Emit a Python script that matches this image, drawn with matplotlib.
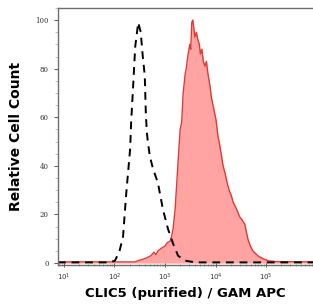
import numpy as np
import matplotlib
matplotlib.use("Agg")
import matplotlib.pyplot as plt
from matplotlib.ticker import LogLocator, MultipleLocator, FixedLocator

# isotype / negative control (dashed), x given as log10 of intensity
ctrl_log = [0.88, 1.90, 2.01, 2.10, 2.17, 2.23, 2.31, 2.33, 2.37, 2.41, 2.47, 2.52,
            2.56, 2.60, 2.62, 2.64, 2.66, 2.70, 2.76, 2.86, 2.96, 3.06, 3.16, 3.26,
            3.40, 3.60, 5.93]
ctrl_val = [0.3, 0.3, 1, 5, 11, 28, 47, 58, 73, 89, 99, 95,
            85, 77, 62, 54, 50, 44, 39, 33, 22, 14, 8, 3,
            1, 0.3, 0.3]

# CLIC5 stained sample (red filled)
stain_log = [0.88, 2.40, 2.47, 2.55, 2.62, 2.72, 2.78, 2.82, 2.86, 2.92, 3.00, 3.05,
             3.10, 3.13, 3.16, 3.20, 3.23, 3.26, 3.30, 3.33, 3.36, 3.40, 3.42, 3.45,
             3.49, 3.51, 3.53, 3.55, 3.57, 3.59, 3.62, 3.65, 3.68, 3.70, 3.73, 3.76,
             3.79, 3.82, 3.85, 3.89, 3.92, 3.95, 3.98, 4.01, 4.05, 4.08, 4.12, 4.15,
             4.19, 4.23, 4.27, 4.31, 4.35, 4.40, 4.44, 4.48, 4.52, 4.55, 4.58, 4.61,
             4.64, 4.69, 4.74, 4.79, 4.84, 4.92, 5.04, 5.20, 5.93]
stain_val = [0.5, 0.5, 1, 1.5, 2, 3, 4.5, 3.5, 5, 6, 7, 8.5,
             9, 11, 14, 22, 32, 42, 55, 58, 70, 78, 80, 85,
             90, 88, 99, 100, 97, 93, 95, 92, 90, 86, 88, 83,
             81, 83, 78, 73, 68, 65, 62, 59, 52, 49, 44, 40,
             37, 33, 30, 28, 25, 23, 21, 19, 18, 17, 16, 13,
             10, 7, 5, 4, 3, 2, 1, 0.6, 0.5]

x_ticks = [1e1, 1e2, 1e3, 1e4, 1e5, 1e6]
x_labels = ["$10^{1}$", "$10^{2}$", "$10^{3}$", "$10^{4}$", "$10^{5}$", "$10^{6}$"]
y_ticks = [0, 20, 40, 60, 80, 100]

ctrl_x = np.power(10.0, ctrl_log)
stain_x = np.power(10.0, stain_log)

fig = plt.figure(figsize=(3.13, 3.05), dpi=100)
ax = fig.add_axes([0.185, 0.131, 0.815, 0.843])

ax.fill_between(stain_x, 0, stain_val, color="#ffa3a3", lw=0)
ax.plot(stain_x, stain_val, color="#dd3b36", lw=1.0)
ax.plot(ctrl_x, ctrl_val, color="black", lw=1.4, dashes=(4, 3))

ax.set_xscale("log")
ax.set_xlim(10**0.88, 10**5.93)
ax.set_ylim(-0.8, 105)

ax.xaxis.set_major_locator(FixedLocator(x_ticks))
ax.set_xticklabels(x_labels)
ax.xaxis.set_minor_locator(LogLocator(base=10, subs=np.arange(2, 10)))
ax.xaxis.set_minor_formatter(plt.NullFormatter())
ax.set_yticks(y_ticks)
ax.yaxis.set_minor_locator(MultipleLocator(5))

for lab in ax.get_xticklabels() + ax.get_yticklabels():
    lab.set_family("DejaVu Serif")
ax.tick_params(axis="both", which="major", labelsize=5, colors="#555555",
               length=3, width=0.7, labelcolor="#333333")
ax.tick_params(axis="x", which="both", direction="inout")
ax.tick_params(axis="y", which="minor", length=2, width=0.5, colors="#aaaaaa")
ax.tick_params(axis="x", which="minor", length=2, width=0.5, colors="#777777")

for side in ["left", "top", "bottom"]:
    ax.spines[side].set_color("#6e6e6e")
    ax.spines[side].set_linewidth(1.0)
ax.spines["right"].set_visible(False)

ax.set_ylabel("Relative Cell Count", fontsize=10, fontweight="bold", labelpad=9)
ax.set_xlabel("CLIC5 (purified) / GAM APC", fontsize=9.5, fontweight="bold", labelpad=3)

fig.savefig("out.png", dpi=100)
